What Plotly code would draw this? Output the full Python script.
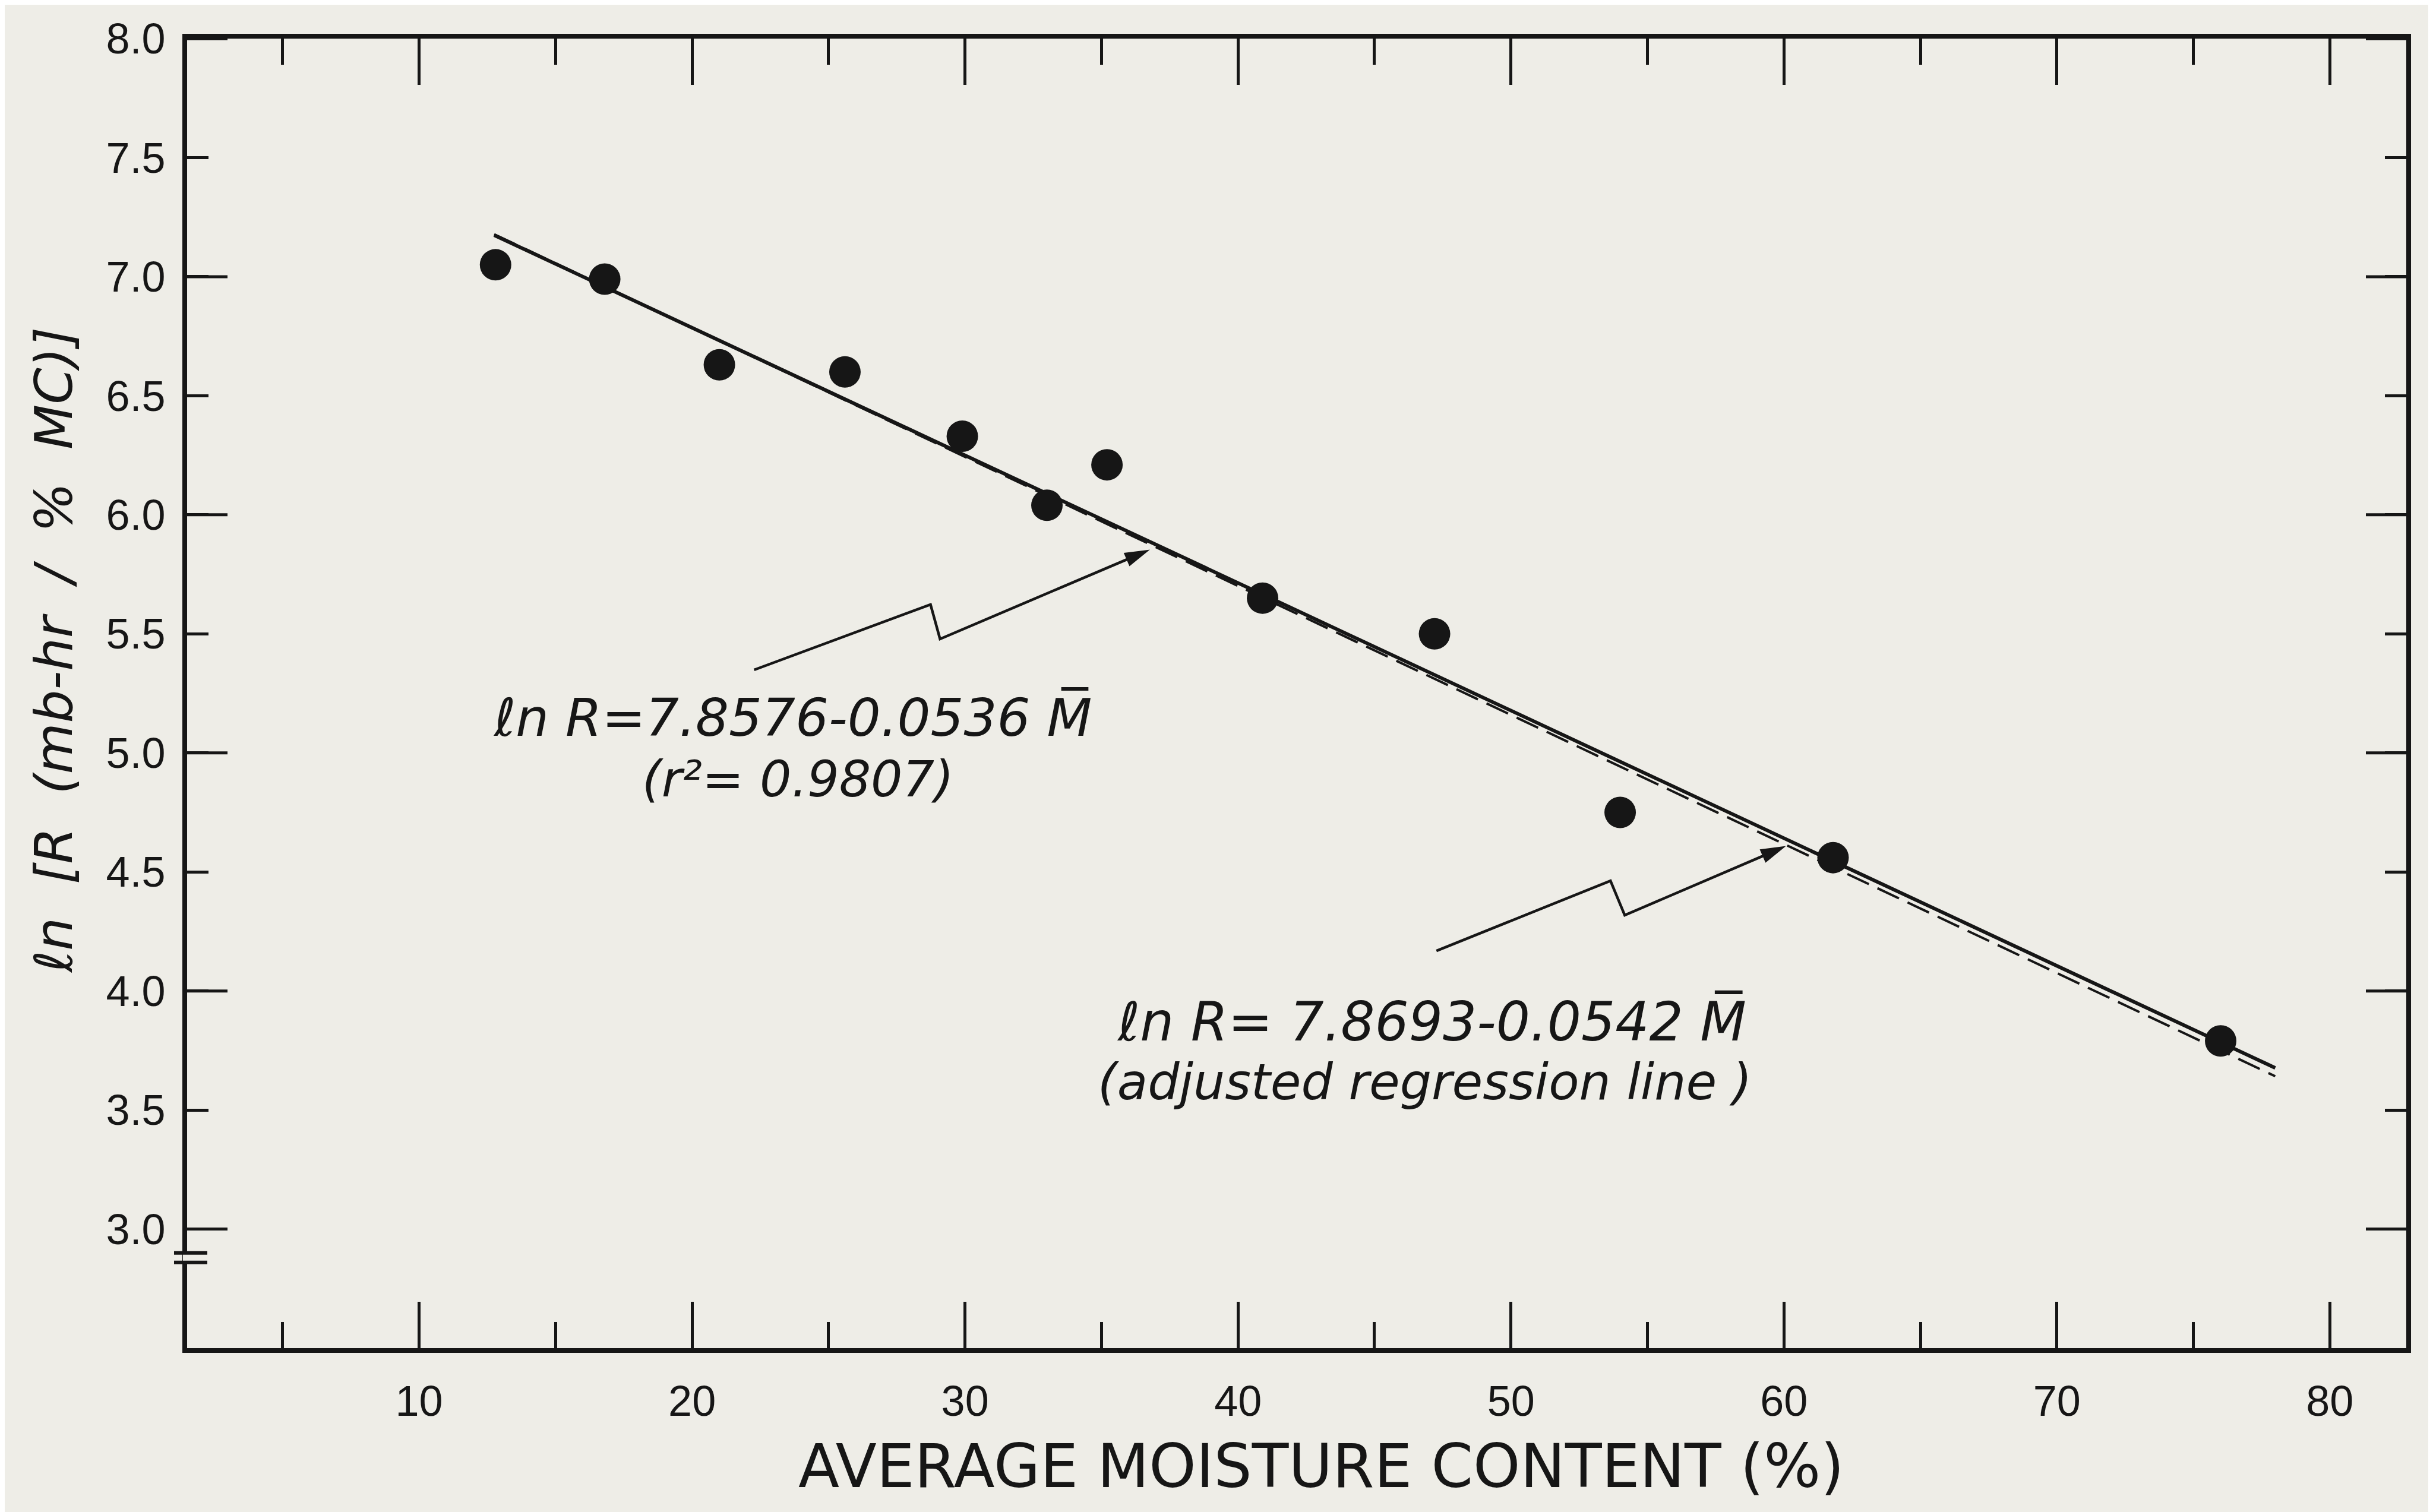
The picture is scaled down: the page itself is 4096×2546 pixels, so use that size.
import math
import plotly.graph_objects as go

# ---------------- data ----------------
M_VALUES = [12.8, 16.8, 21.0, 25.6, 29.9, 33.0, 35.2, 40.9, 47.2, 54.0, 61.8, 76.0]
LN_R = [7.05, 6.99, 6.63, 6.60, 6.33, 6.04, 6.21, 5.65, 5.50, 4.75, 4.56, 3.79]

FIT_A, FIT_B = 7.8576, 0.0536      # ln R = 7.8576 - 0.0536 M
ADJ_A, ADJ_B = 7.8693, 0.0542      # adjusted regression line
LINE_X = [12.75, 78.0]

X_MAJOR = [10, 20, 30, 40, 50, 60, 70, 80]
X_MINOR = [5, 15, 25, 35, 45, 55, 65, 75]
Y_TICKS = [3.0, 3.5, 4.0, 4.5, 5.0, 5.5, 6.0, 6.5, 7.0, 7.5, 8.0]
Y_TICK_TEXT = ["3.0", "3.5", "4.0", "4.5", "5.0", "5.5", "6.0", "6.5", "7.0", "7.5", "8.0"]
Y_LONG = [3.0, 4.0, 5.0, 6.0, 7.0, 8.0]
Y_BREAK = [2.90, 2.86]

X_RANGE = [1.5, 82.8]
Y_RANGE = [2.5, 8.0]

INK = "#161616"
PAPER = "#eeede7"

fit_y = [FIT_A - FIT_B * x for x in LINE_X]
adj_y = [ADJ_A - ADJ_B * x for x in LINE_X]

fig = go.Figure()
fig.add_trace(go.Scatter(x=LINE_X, y=adj_y, mode="lines",
                         line=dict(color=INK, width=4, dash="40px,16px"),
                         hoverinfo="skip", showlegend=False))
fig.add_trace(go.Scatter(x=LINE_X, y=fit_y, mode="lines",
                         line=dict(color=INK, width=6),
                         hoverinfo="skip", showlegend=False))
fig.add_trace(go.Scatter(x=M_VALUES, y=LN_R, mode="markers",
                         marker=dict(color=INK, size=53, line=dict(width=0)),
                         showlegend=False))

W, H = 4096, 2546
ML, MR, MT, MB = 307, 53, 57, 284

tick_font = dict(family="Liberation Sans, Arial, sans-serif", size=72, color=INK)

fig.update_layout(
    width=W, height=H, autosize=False,
    margin=dict(l=ML, r=MR, t=MT, b=MB),
    paper_bgcolor=PAPER, plot_bgcolor=PAPER,
    showlegend=False,
    xaxis=dict(range=X_RANGE, showgrid=False, zeroline=False,
               showline=True, linewidth=8, linecolor=INK, mirror="ticks",
               ticks="inside", tickvals=X_MAJOR, ticktext=[str(v) for v in X_MAJOR],
               ticklen=78, tickwidth=5, tickcolor=INK,
               minor=dict(tickvals=X_MINOR, ticks="inside", ticklen=44,
                          tickwidth=5, tickcolor=INK, showgrid=False),
               tickfont=tick_font, ticklabelstandoff=20),
    yaxis=dict(range=Y_RANGE, showgrid=False, zeroline=False,
               showline=True, linewidth=8, linecolor=INK, mirror="ticks",
               ticks="inside", tickvals=Y_TICKS, ticktext=Y_TICK_TEXT,
               ticklen=36, tickwidth=5, tickcolor=INK,
               tickfont=tick_font, ticklabelstandoff=14),
)

# long ticks at the whole numbers on both vertical sides
for v in Y_LONG:
    fig.add_shape(type="line", xref="paper", yref="y", xsizemode="pixel",
                  xanchor=0, x0=0, x1=68, y0=v, y1=v,
                  line=dict(color=INK, width=5), layer="above")
    fig.add_shape(type="line", xref="paper", yref="y", xsizemode="pixel",
                  xanchor=1, x0=-68, x1=0, y0=v, y1=v,
                  line=dict(color=INK, width=5), layer="above")

# axis break marks on the left axis
fig.add_shape(type="rect", xref="paper", yref="y", xsizemode="pixel",
              xanchor=0, x0=-7, x1=7, y0=min(Y_BREAK), y1=max(Y_BREAK),
              fillcolor=PAPER, line=dict(width=0), layer="above")
for v in Y_BREAK:
    fig.add_shape(type="line", xref="paper", yref="y", xsizemode="pixel",
                  xanchor=0, x0=-22, x1=34, y0=v, y1=v,
                  line=dict(color=INK, width=6), layer="above")

# broken ("lightning") leader arrows pointing at the two lines
ARROWS = [
    # tip (data), trough, peak, start  (pixel offsets from the tip, y up)
    dict(tip=(36.7, 5.85), trough=(-350, -149), peak=(-366, -91), start=(-663, -201)),
    dict(tip=(60.0, 4.605), trough=(-268, -115), peak=(-292, -57), start=(-585, -175)),
]
HEAD_LEN, HEAD_HALF = 38, 11
for a in ARROWS:
    tx, ty = a["tip"]
    sx, sy = a["start"]
    px, py = a["peak"]
    qx, qy = a["trough"]
    L = math.hypot(qx, qy)
    ux, uy = -qx / L, -qy / L          # direction trough -> tip
    nx, ny = -uy, ux
    bx, by = -HEAD_LEN * ux, -HEAD_LEN * uy
    fig.add_shape(type="path", xref="x", yref="y", xsizemode="pixel", ysizemode="pixel",
                  xanchor=tx, yanchor=ty,
                  path=f"M {sx},{sy} L {px},{py} L {qx},{qy} L {bx:.1f},{by:.1f}",
                  line=dict(color=INK, width=4.5), layer="above")
    fig.add_shape(type="path", xref="x", yref="y", xsizemode="pixel", ysizemode="pixel",
                  xanchor=tx, yanchor=ty,
                  path=(f"M 0,0 L {bx + HEAD_HALF * nx:.1f},{by + HEAD_HALF * ny:.1f} "
                        f"L {bx - HEAD_HALF * nx:.1f},{by - HEAD_HALF * ny:.1f} Z"),
                  fillcolor=INK, line=dict(color=INK, width=2), layer="above")


def px2paper(X, Y):
    return (X - ML) / (W - ML - MR), 1 - (Y - MT) / (H - MT - MB)


EQ_FAMILY = "DejaVu Sans, sans-serif"
TEXTS = [
    ("<i>\u2113n R=7.8576-0.0536 M\u0305</i>", 1326, 1200, 88),
    ("<i>(r\u00b2= 0.9807)</i>", 1335, 1304, 84),
    ("<i>\u2113n R= 7.8693-0.0542 M\u0305</i>", 2402, 1712, 90),
    ("<i>(adjusted regression line )</i>", 2391, 1814, 84),
]
for txt, X, Y, size in TEXTS:
    xp, yp = px2paper(X, Y)
    fig.add_annotation(x=xp, y=yp, xref="paper", yref="paper", text=txt,
                       showarrow=False, xanchor="center", yanchor="middle",
                       font=dict(family=EQ_FAMILY, size=size, color=INK))

# axis titles
xp, yp = px2paper(2216, 2461)
fig.add_annotation(x=xp, y=yp, xref="paper", yref="paper",
                   text="AVERAGE MOISTURE CONTENT (%)", showarrow=False,
                   xanchor="center", yanchor="middle",
                   font=dict(family="DejaVu Sans, sans-serif", size=101, color=INK))
xp, yp = px2paper(83, 1087)
NB = "\u00a0"
fig.add_annotation(x=xp, y=yp, xref="paper", yref="paper",
                   text=f"<i>\u2113n{NB} [R{NB} (mb-hr{NB} /{NB} %{NB} MC)]</i>",
                   showarrow=False, textangle=-90, xanchor="center", yanchor="middle",
                   font=dict(family="DejaVu Sans, sans-serif", size=88, color=INK))

fig.write_html("out.html")
